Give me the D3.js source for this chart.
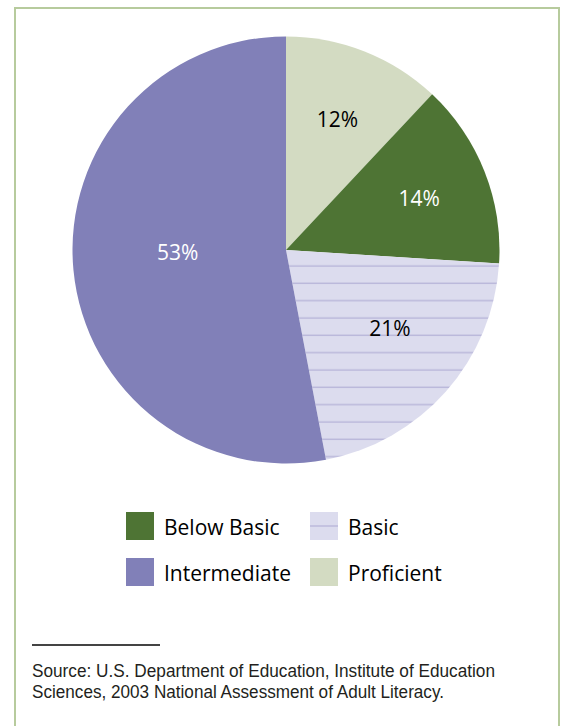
<!DOCTYPE html>
<html>
<head>
<meta charset="utf-8">
<script src="https://cdn.jsdelivr.net/npm/d3@7"></script>
<style>
  html, body { margin: 0; padding: 0; background: #fff; }
  svg { display: block; }
</style>
</head>
<body>
<svg id="chart" width="563" height="726"></svg>
<script>
// ---- data ----
const categories = ["Proficient", "Below Basic", "Basic", "Intermediate"];
const values = [12, 14, 21, 53];
const valueLabels = ["12%", "14%", "21%", "53%"];
const legendOrder = ["Below Basic", "Basic", "Intermediate", "Proficient"];
const sourceLines = [
  "Source: U.S. Department of Education, Institute of Education",
  "Sciences, 2003 National Assessment of Adult Literacy."
];

// ---- styles ----
const colors = {
  "Proficient": "#d3dbc2",
  "Below Basic": "#4e7434",
  "Basic": "url(#hatch)",
  "Intermediate": "#8180b8"
};
const labelColors = { "Proficient": "#000", "Below Basic": "#fff", "Basic": "#000", "Intermediate": "#fff" };
const labelNudge = { "Proficient": [0, 0], "Below Basic": [3, 0], "Basic": [-1, -14], "Intermediate": [31, -11] };

const svg = d3.select("#chart");
const font = "'Open Sans', 'Noto Sans', sans-serif";

// hatch pattern for Basic
const cx = 286, cy = 250, R = 213.5;
const defs = svg.append("defs");
const pat = defs.append("pattern")
  .attr("id", "hatch")
  .attr("patternUnits", "userSpaceOnUse")
  .attr("x", -cx).attr("y", -cy)
  .attr("width", 20).attr("height", 52 / 3);
pat.append("rect").attr("width", 20).attr("height", 52 / 3).attr("fill", "#dcdcee");
pat.append("line").attr("x1", 0).attr("x2", 20).attr("y1", 6).attr("y2", 6)
  .attr("stroke", "#b6b3d8").attr("stroke-width", 1.3);

// frame
svg.append("rect")
  .attr("x", 15).attr("y", 8)
  .attr("width", 544).attr("height", 760)
  .attr("fill", "none")
  .attr("stroke", "#b7cb9d")
  .attr("stroke-width", 2);

// pie
const pie = d3.pie().sort(null).value(d => d.value);
const arcs = pie(categories.map((c, i) => ({ name: c, value: values[i], label: valueLabels[i] })));
const arc = d3.arc().innerRadius(0).outerRadius(R);
const labelArc = d3.arc().innerRadius(140).outerRadius(140);

const g = svg.append("g").attr("transform", `translate(${cx},${cy})`);
g.selectAll("path.slice")
  .data(arcs)
  .join("path")
  .attr("class", "slice")
  .attr("d", arc)
  .attr("fill", d => colors[d.data.name]);

g.selectAll("text.val")
  .data(arcs)
  .join("text")
  .attr("class", "val")
  .attr("x", d => labelArc.centroid(d)[0] + labelNudge[d.data.name][0])
  .attr("y", d => labelArc.centroid(d)[1] + 7.5 + labelNudge[d.data.name][1])
  .attr("text-anchor", "middle")
  .attr("font-family", font)
  .attr("font-size", 21)
  .attr("fill", d => labelColors[d.data.name])
  .text(d => d.data.label);

// legend
const legX = d3.scaleOrdinal().domain([0, 1]).range([126, 310]);
const legY = d3.scaleOrdinal().domain([0, 1]).range([512, 558]);
const leg = svg.append("g").selectAll("g")
  .data(legendOrder)
  .join("g")
  .attr("transform", (d, i) => `translate(${legX(i % 2)},${legY(Math.floor(i / 2))})`);
leg.append("rect")
  .attr("width", 28).attr("height", 28)
  .attr("fill", d => d === "Basic" ? "#dcdcee" : colors[d]);
leg.filter(d => d === "Basic").append("line")
  .attr("x1", 0).attr("x2", 28).attr("y1", 14).attr("y2", 14)
  .attr("stroke", "#b6b3d8").attr("stroke-width", 1.3);
leg.append("text")
  .attr("x", 38).attr("y", 23)
  .attr("font-family", font)
  .attr("font-size", 21)
  .attr("fill", "#000")
  .text(d => d);

// footnote rule
svg.append("line")
  .attr("x1", 32).attr("x2", 160)
  .attr("y1", 645).attr("y2", 645)
  .attr("stroke", "#444").attr("stroke-width", 2);

const srcWidths = [463, 412];
svg.append("g").selectAll("text")
  .data(sourceLines)
  .join("text")
  .attr("x", 32)
  .attr("y", (d, i) => 677 + i * 20.5)
  .attr("font-family", "'Liberation Sans Narrow', 'Liberation Sans', sans-serif")
  .attr("font-size", 17.5)
  .attr("fill", "#231f20")
  .attr("textLength", (d, i) => srcWidths[i])
  .attr("lengthAdjust", "spacingAndGlyphs")
  .text(d => d);
</script>
</body>
</html>
